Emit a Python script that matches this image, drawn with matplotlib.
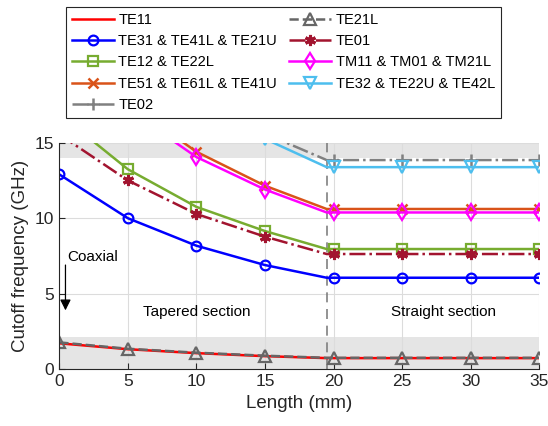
import matplotlib.pyplot as plt

plt.rcParams['font.family'] = ['Liberation Sans', 'DejaVu Sans']

# lengths (mm): tapered section ends at 19.5, straight section afterwards
length = [0, 5, 10, 15, 19.5, 20, 25, 30, 35]

te11 = [1.72, 1.33, 1.07, 0.87, 0.74, 0.74, 0.74, 0.74, 0.74]
te21l = [1.78, 1.36, 1.10, 0.90, 0.76, 0.76, 0.76, 0.76, 0.76]
te31 = [12.9, 10.0, 8.18, 6.9, 6.06, 6.06, 6.06, 6.06, 6.06]
te01 = [15.55, 12.5, 10.28, 8.78, 7.63, 7.63, 7.63, 7.63, 7.63]
te12 = [16.9, 13.24, 10.75, 9.15, 7.96, 7.96, 7.96, 7.96, 7.96]
tm11 = [22.1, 17.2, 14.05, 11.9, 10.38, 10.38, 10.38, 10.38, 10.38]
te51 = [22.6, 17.6, 14.4, 12.15, 10.61, 10.61, 10.61, 10.61, 10.61]
te32 = [28.5, 22.1, 18.0, 15.25, 13.38, 13.38, 13.38, 13.38, 13.38]
te02 = [29.3, 22.7, 18.5, 15.6, 13.85, 13.85, 13.85, 13.85, 13.85]

mk = [0, 1, 2, 3, 5, 6, 7, 8]  # no marker on the taper end point

fig = plt.figure(figsize=(5.48, 4.26), dpi=100)
ax = fig.add_axes([0.1082, 0.1331, 0.8758, 0.532])

# shaded bands
ax.axhspan(14, 15, color='#e5e5e5', zorder=0, lw=0)
ax.axhspan(0, 2.12, color='#e5e5e5', zorder=0, lw=0)

lw = 1.8
ms = 7
h_te11, = ax.plot(length, te11, '-', color='red', lw=lw, label='TE11')
h_te31, = ax.plot(length, te31, '-o', color='blue', lw=lw, ms=ms, mfc='none', mew=1.6,
                  markevery=mk, label='TE31 & TE41L & TE21U')
h_te12, = ax.plot(length, te12, '-s', color='#77ac30', lw=lw, ms=ms, mfc='none', mew=1.6,
                  markevery=mk, label='TE12 & TE22L')
h_te51, = ax.plot(length, te51, '-x', color='#d95319', lw=lw, ms=ms, mew=1.8,
                  markevery=mk, label='TE51 & TE61L & TE41U')
h_te02, = ax.plot(length, te02, '-.+', color='#808080', lw=lw, ms=ms + 1, mew=1.8,
                  markevery=mk, label='TE02')
h_te21l, = ax.plot(length, te21l, '--^', color='#666666', lw=lw, ms=ms + 1, mfc='none', mew=1.6,
                   markevery=mk, label='TE21L')
h_te01, = ax.plot(length, te01, '-.', color='#a2142f', lw=lw, marker=(6, 2, 0), ms=ms + 1, mew=2.2,
                  markevery=mk, label='TE01')
h_tm11, = ax.plot(length, tm11, '-d', color='magenta', lw=lw, ms=ms + 1, mfc='none', mew=1.6,
                  markevery=mk, label='TM11 & TM01 & TM21L')
h_te32, = ax.plot(length, te32, '-v', color='#4dbeee', lw=lw, ms=ms + 1, mfc='none', mew=1.6,
                  markevery=mk, label='TE32 & TE22U & TE42L')

# section boundary
ax.axvline(19.5, color='#808080', ls=(0, (6, 4)), lw=1.2, zorder=1)

ax.text(0.55, 7.45, 'Coaxial', fontsize=11, va='center', ha='left')
ax.annotate('', xy=(0.45, 3.9), xytext=(0.45, 6.9),
            arrowprops=dict(arrowstyle='-|>', color='black', lw=0.9,
                            mutation_scale=16, shrinkA=0, shrinkB=0))
ax.text(10, 3.77, 'Tapered section', fontsize=11, ha='center', va='center')
ax.text(28, 3.77, 'Straight section', fontsize=11, ha='center', va='center')

ax.set_xlim(0, 35)
ax.set_ylim(0, 15)
ax.set_xticks(range(0, 36, 5))
ax.set_yticks([0, 5, 10, 15])
ax.set_axisbelow(True)
ax.grid(True, color='#dcdcdc', lw=0.8)
ax.tick_params(direction='in', labelsize=12.5, colors='#262626', length=4)
for s in ['top', 'right']:
    ax.spines[s].set_visible(False)
for s in ['left', 'bottom']:
    ax.spines[s].set_color('#262626')
ax.set_xlabel('Length (mm)', fontsize=13.5, color='#262626')
ax.set_ylabel('Cutoff frequency (GHz)', fontsize=13.5, color='#262626')

handles = [h_te11, h_te31, h_te12, h_te51, h_te02, h_te21l, h_te01, h_tm11, h_te32]
leg = fig.legend(handles=handles, loc='upper left', bbox_to_anchor=(0.1204, 0.9836),
                 borderaxespad=0, ncol=2, fontsize=10.5, handlelength=2.9, frameon=True,
                 fancybox=False, edgecolor='#262626', framealpha=1, borderpad=0.4,
                 labelspacing=0.5, columnspacing=0.8, handletextpad=0.3)
leg.get_frame().set_linewidth(0.8)

fig.savefig('out.png', dpi=100)
